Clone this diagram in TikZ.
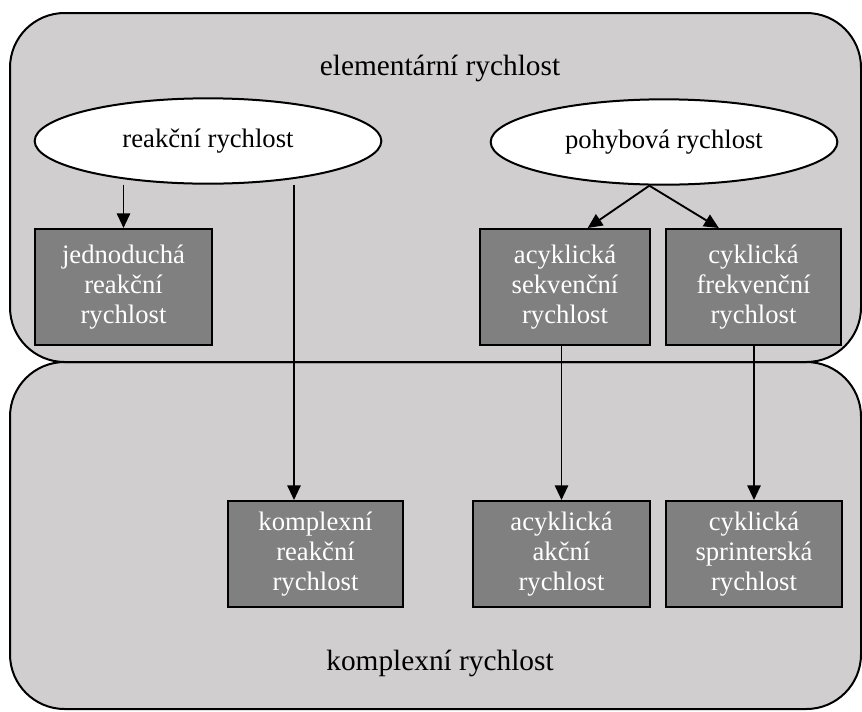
\documentclass[tikz,border=0pt]{standalone}
\usepackage{fontspec}
\setmainfont{Liberation Serif}
\usepackage{xcolor}
\usepackage{tikz}
\usetikzlibrary{shapes,arrows,arrows.meta}

\definecolor{panelgray}{RGB}{208,206,207}
\definecolor{boxgray}{RGB}{128,128,128}

\begin{document}
\begin{tikzpicture}[x=0.75pt,y=-0.75pt]
\tikzstyle{panel}=[fill=panelgray, draw=black, line width=1.5pt, rounded corners=41pt]
\tikzstyle{oval}=[ellipse, draw=black, fill=white, line width=1.5pt, minimum width=260pt, minimum height=64pt, inner sep=0pt, font=\fontsize{20}{24}\selectfont]
\tikzstyle{dbox}=[rectangle, draw=black, fill=boxgray, line width=1.5pt, text=white, minimum width=131pt, minimum height=87pt, inner sep=0pt, align=center, font=\fontsize{20}{22.5}\selectfont]
\tikzstyle{lowbox}=[dbox, minimum height=79.5pt]
\tikzstyle{big}=[font=\fontsize{22}{26}\selectfont]
\tikzstyle{link}=[line width=1.4pt, -{Triangle[length=11pt,width=10pt]}]
\useasboundingbox (0,0) rectangle (862,711);
% the two panels
\path[panel] (10,362) rectangle (861,709);
\path[panel] (10,13) rectangle (861,362);
\node[big] (elem) at (440,68) {elementární rychlost};
\node[big] (komp) at (440,663) {komplexní rychlost};
\node[oval] (reakce) at (208,141) {reakční rychlost};
\node[oval] (pohyb) at (664,142) {pohybová rychlost};
\node[dbox, minimum width=133pt] (jedno) at (123.5,287) {jednoduchá\\reakční\\rychlost};
\node[dbox, minimum width=127.5pt] (sekv) at (565,287) {acyklická\\sekvenční\\rychlost};
\node[dbox] (frekv) at (753.5,287) {cyklická\\frekvenční\\rychlost};
\node[lowbox] (kreak) at (315.5,554) {komplexní\\reakční\\rychlost};
\node[lowbox, minimum width=133pt] (akcni) at (561.5,554) {acyklická\\akční\\rychlost};
\node[lowbox, minimum width=132pt] (sprint) at (754,554) {cyklická\\sprinterská\\rychlost};
\coordinate (split) at (294,0);
\draw[link] (reakce.south -| jedno.north) -- (jedno.north);
\draw[link] (reakce.south -| split) -- (kreak.north -| split);
\draw[link] ([xshift=-11pt]pohyb.south) -- ([xshift=17pt]sekv.north);
\draw[link] ([xshift=-11pt]pohyb.south) -- ([xshift=-26pt]frekv.north);
\draw[link] (sekv.south -| akcni.north) -- (akcni.north);
\draw[link] (frekv.south -| sprint.north) -- (sprint.north);
\end{tikzpicture}
\end{document}
